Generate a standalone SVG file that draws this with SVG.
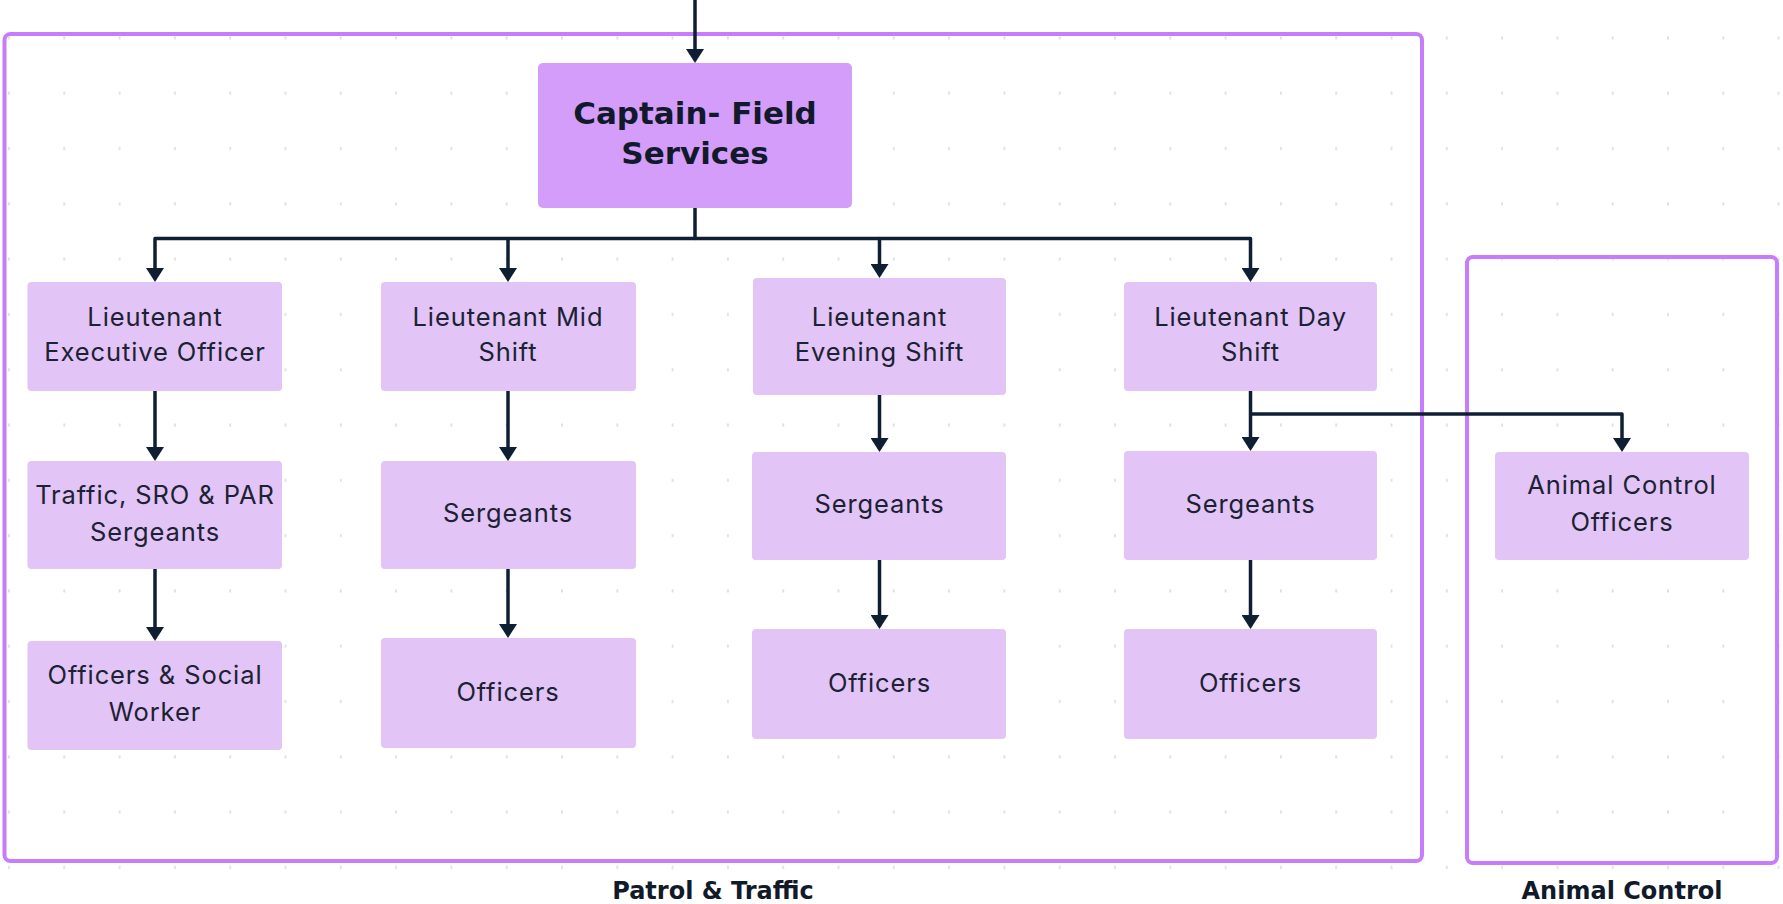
<svg xmlns="http://www.w3.org/2000/svg" width="1783" height="904" viewBox="0 0 1783 904">
<style>
.grp{fill:none;stroke:#C67CFB;stroke-width:4}
.node rect{fill:#E2C4F7}
.cap rect{fill:#D39DF9}
.t{font-family:Inter,"Noto Sans","Liberation Sans",sans-serif;font-size:25.5px;letter-spacing:0.9px;fill:#1B2233;text-anchor:middle}
.b{font-family:"DejaVu Sans","Liberation Sans",sans-serif;font-weight:700;fill:#111A2B;text-anchor:middle}
.c{fill:none;stroke:#0F1F33;stroke-width:3.5;stroke-linejoin:round}
</style>
<defs>
<pattern id="dots" patternUnits="userSpaceOnUse" x="-18.65" y="10.35" width="55.3" height="55.3">
<rect x="26.9" y="26.1" width="1.5" height="3" fill="#D6D6D6"/>
</pattern>
<marker id="ah" markerUnits="userSpaceOnUse" viewBox="0 0 14 18" markerWidth="14" markerHeight="18" refX="11" refY="9" orient="auto">
<path d="M0,0 L14,9 L0,18 z" fill="#0F1F33"/>
</marker>
</defs>
<rect width="1783" height="904" fill="#FFFFFF"/>
<rect width="1783" height="904" fill="url(#dots)"/>

<g id="group-patrol">
<rect class="grp" x="4.5" y="34" width="1417.5" height="827" rx="6"/>
<text class="b" x="713" y="899" font-size="24">Patrol &amp; Traffic</text>
</g>
<g id="group-animal">
<rect class="grp" x="1467" y="257" width="310" height="606" rx="6"/>
<text class="b" x="1622" y="899" font-size="24">Animal Control</text>
</g>

<g id="connectors">
<path class="c" d="M695,0 V60" marker-end="url(#ah)"/>
<path class="c" d="M695,208 V238.5 H155 V279" marker-end="url(#ah)"/>
<path class="c" d="M508,238.5 V279" marker-end="url(#ah)"/>
<path class="c" d="M695,238.5 H879.5 V275" marker-end="url(#ah)"/>
<path class="c" d="M879.5,238.5 H1250.5 V279" marker-end="url(#ah)"/>
<path class="c" d="M155,391 V458" marker-end="url(#ah)"/>
<path class="c" d="M155,569 V638" marker-end="url(#ah)"/>
<path class="c" d="M508,391 V458" marker-end="url(#ah)"/>
<path class="c" d="M508,569 V635" marker-end="url(#ah)"/>
<path class="c" d="M879.5,395 V449" marker-end="url(#ah)"/>
<path class="c" d="M879.5,560 V626" marker-end="url(#ah)"/>
<path class="c" d="M1250.5,391 V448" marker-end="url(#ah)"/>
<path class="c" d="M1250.5,414 H1622 V449" marker-end="url(#ah)"/>
<path class="c" d="M1250.5,560 V626" marker-end="url(#ah)"/>
</g>

<g id="captain" class="cap">
<rect x="538" y="63" width="314" height="145" rx="5"/>
<text class="b" x="695" y="124" font-size="31">Captain- Field</text>
<text class="b" x="695" y="164" font-size="31">Services</text>
</g>

<g id="lt-exec" class="node">
<rect x="27.5" y="282" width="254.5" height="109" rx="4"/>
<text class="t" x="155" y="326">Lieutenant</text>
<text class="t" x="155" y="361">Executive Officer</text>
</g>
<g id="lt-mid" class="node">
<rect x="381" y="282" width="255" height="109" rx="4"/>
<text class="t" x="508" y="326">Lieutenant Mid</text>
<text class="t" x="508" y="361">Shift</text>
</g>
<g id="lt-evening" class="node">
<rect x="753" y="278" width="253" height="117" rx="4"/>
<text class="t" x="879.5" y="326">Lieutenant</text>
<text class="t" x="879.5" y="361">Evening Shift</text>
</g>
<g id="lt-day" class="node">
<rect x="1124" y="282" width="253" height="109" rx="4"/>
<text class="t" x="1250.5" y="326">Lieutenant Day</text>
<text class="t" x="1250.5" y="361">Shift</text>
</g>

<g id="traffic-sgt" class="node">
<rect x="27.5" y="461" width="254.5" height="108" rx="4"/>
<text class="t" x="155" y="504">Traffic, SRO &amp; PAR</text>
<text class="t" x="155" y="541">Sergeants</text>
</g>
<g id="mid-sgt" class="node">
<rect x="381" y="461" width="255" height="108" rx="4"/>
<text class="t" x="508" y="522">Sergeants</text>
</g>
<g id="evening-sgt" class="node">
<rect x="752" y="452" width="254" height="108" rx="4"/>
<text class="t" x="879.5" y="513">Sergeants</text>
</g>
<g id="day-sgt" class="node">
<rect x="1124" y="451" width="253" height="109" rx="4"/>
<text class="t" x="1250.5" y="513">Sergeants</text>
</g>
<g id="animal-officers" class="node">
<rect x="1495" y="452" width="254" height="108" rx="4"/>
<text class="t" x="1622" y="494">Animal Control</text>
<text class="t" x="1622" y="531">Officers</text>
</g>

<g id="officers-sw" class="node">
<rect x="27.5" y="641" width="254.5" height="109" rx="4"/>
<text class="t" x="155" y="684">Officers &amp; Social</text>
<text class="t" x="155" y="721">Worker</text>
</g>
<g id="mid-officers" class="node">
<rect x="381" y="638" width="255" height="110" rx="4"/>
<text class="t" x="508" y="701">Officers</text>
</g>
<g id="evening-officers" class="node">
<rect x="752" y="629" width="254" height="110" rx="4"/>
<text class="t" x="879.5" y="692">Officers</text>
</g>
<g id="day-officers" class="node">
<rect x="1124" y="629" width="253" height="110" rx="4"/>
<text class="t" x="1250.5" y="692">Officers</text>
</g>
</svg>
